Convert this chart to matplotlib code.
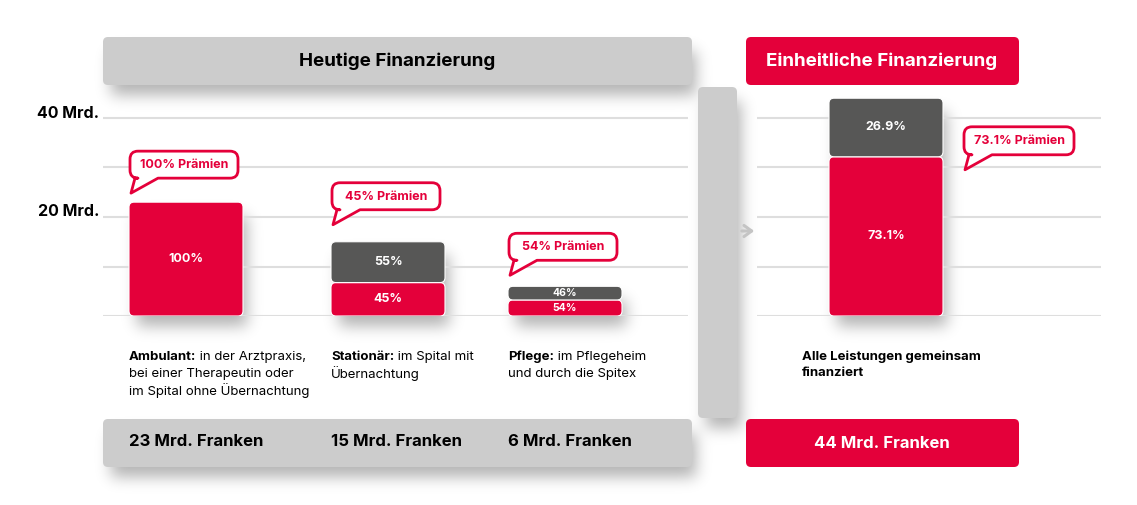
import numpy as np
import matplotlib.pyplot as plt
from matplotlib.patches import FancyBboxPatch, PathPatch
from matplotlib.path import Path

# data (Mrd. Franken and shares)
categories = ['Ambulant', 'Stationär', 'Pflege']
totals = [23, 15, 6]
praemien_share = [100, 45, 54]
other_share = [0, 55, 46]
new_total = 44
new_praemien = 73.1
new_other = 26.9
y_ticks = [20, 40]
y_labels = ['20 Mrd.', '40 Mrd.']
descriptions = [
    ('Ambulant:', [' in der Arztpraxis,', 'bei einer Therapeutin oder', 'im Spital ohne Übernachtung']),
    ('Stationär:', [' im Spital mit', 'Übernachtung']),
    ('Pflege:', [' im Pflegeheim', 'und durch die Spitex']),
]

RED = '#e4003a'
DARK = '#575756'
LIGHT = '#cccccc'
GRID = '#dedede'
FONT = 'Inter'
W, H = 1137, 505

plt.rcParams['font.family'] = [FONT, 'DejaVu Sans']

fig = plt.figure(figsize=(W / 100, H / 100), dpi=100)
fig.patch.set_facecolor('white')

# background axes in pixel coordinates (y down)
bg = fig.add_axes([0, 0, 1, 1], zorder=0)
bg.axis('off')

PX = 198 / 40.0  # pixels per Mrd.
y0_px = 316
shadow_rects = []


def rbox(ax, x, y, w, h, color, r=5, z=1):
    p = FancyBboxPatch((x, y), w, h, boxstyle=f'round,pad=0,rounding_size={r}',
                       fc=color, ec='none', zorder=z)
    ax.add_patch(p)
    return p


# header boxes
rbox(bg, 103, 37, 589, 48, LIGHT)
shadow_rects.append((103, 37, 692, 85))
bg.text(397, 61, 'Heutige Finanzierung', ha='center', va='center', fontsize=13.5,
        fontweight='bold', color='black')
rbox(bg, 746, 37, 273, 48, RED)
bg.text(882, 61, 'Einheitliche Finanzierung', ha='center', va='center', fontsize=13.5,
        fontweight='bold', color='white')

# vertical separator
rbox(bg, 698, 87, 39, 331, LIGHT)
shadow_rects.append((698, 87, 737, 418))
bg.annotate('', xy=(757, 231), xytext=(739, 231),
            arrowprops=dict(arrowstyle='->,head_length=0.55,head_width=0.4', color='#c4c4c4', lw=2.2))

# bottom boxes
rbox(bg, 103, 419, 589, 48, LIGHT)
shadow_rects.append((103, 419, 692, 467))
rbox(bg, 746, 419, 273, 48, RED)


def chart_axes(x_left, x_right):
    top = y0_px - 45 * PX
    ax = fig.add_axes([x_left / W, 1 - y0_px / H, (x_right - x_left) / W, (y0_px - top) / H],
                      zorder=1)
    ax.set_xlim(0, x_right - x_left)
    ax.set_ylim(0, 45)
    ax.patch.set_alpha(0)
    for s in ax.spines.values():
        s.set_visible(False)
    ax.set_xticks([])
    ax.set_yticks([])
    for g in [0, 10, 20, 30, 40]:
        ax.axhline(g, color=GRID, lw=1.5, zorder=0)
    return ax


ax = chart_axes(103, 688)
ax2 = chart_axes(757, 1101)
asp = 1 / PX


def to_px(a, x, y):
    dx, dy = a.transData.transform((x, y))
    return dx, H - dy


bar_x = [26, 228, 405]
bar_w = 114


def seg(a, x, bottom, h, color, label, fs):
    p = FancyBboxPatch((x, bottom), bar_w, h, boxstyle='round,pad=0,rounding_size=5',
                       mutation_aspect=asp, fc=color, ec='white', lw=0.8, zorder=2)
    a.add_patch(p)
    a.text(x + bar_w / 2, bottom + h / 2, label, ha='center', va='center', color='white',
           fontsize=fs, fontweight='bold', zorder=3)


def add_bar_shadow(a, x, total):
    xa, ya = to_px(a, x, total)
    xb, yb = to_px(a, x + bar_w, 0)
    shadow_rects.append((xa, ya, xb, yb))


for i, (t, pr, ot) in enumerate(zip(totals, praemien_share, other_share)):
    fs = 9 if t > 10 else 7.5
    red_h = t * pr / 100
    seg(ax, bar_x[i], 0, red_h, RED, f'{pr}%', fs)
    if ot:
        seg(ax, bar_x[i], red_h, t * ot / 100, DARK, f'{ot}%', fs)
    add_bar_shadow(ax, bar_x[i], t)

nx = 72
red_h = new_total * new_praemien / 100
seg(ax2, nx, 0, red_h, RED, f'{new_praemien}%', 9)
seg(ax2, nx, red_h, new_total * new_other / 100, DARK, f'{new_other}%', 9)
add_bar_shadow(ax2, nx, new_total)

# soft drop shadows as a blurred image
mask = np.zeros((H, W))
dx, dy = 4, 10
for x0, y0, x1, y1 in shadow_rects:
    mask[int(y0 + dy + 4):int(y1 + dy), int(x0 + dx + 4):int(x1 + dx)] = 1
s = 7.5
k = np.exp(-np.arange(-25, 26) ** 2 / (2 * s * s))
k /= k.sum()
mask = np.apply_along_axis(lambda r: np.convolve(r, k, mode='same'), 1, mask)
mask = np.apply_along_axis(lambda c: np.convolve(c, k, mode='same'), 0, mask)
rgba = np.zeros((H, W, 4))
rgba[..., 3] = mask * 0.3
bg.imshow(rgba, extent=(0, W, H, 0), interpolation='bilinear', aspect='auto', zorder=0)
bg.set_xlim(0, W)
bg.set_ylim(H, 0)

# y labels
for v, lab in zip(y_ticks, y_labels):
    bg.text(99, y0_px - v * PX - 5, lab, ha='right', va='center', fontsize=11.5,
            fontweight='bold', color='black')

# top overlay for callouts
top = fig.add_axes([0, 0, 1, 1], zorder=3)
top.set_xlim(0, W)
top.set_ylim(H, 0)
top.axis('off')


def bubble(tip, text, w=108, h=27, r=8):
    tx, ty = tip
    x0 = tx - 1
    y1 = ty - 15
    y0 = y1 - h
    x1 = x0 + w
    ba, bb = x0 + 5, x0 + 28
    verts = [(x0 + r, y0), (x1 - r, y0), (x1, y0), (x1, y0 + r), (x1, y1 - r), (x1, y1),
             (x1 - r, y1), (bb, y1), (tx, ty), (ba, y1), (x0 + r, y1), (x0, y1), (x0, y1 - r),
             (x0, y0 + r), (x0, y0), (x0 + r, y0), (x0 + r, y0)]
    codes = [Path.MOVETO, Path.LINETO, Path.CURVE3, Path.CURVE3, Path.LINETO, Path.CURVE3,
             Path.CURVE3, Path.LINETO, Path.LINETO, Path.LINETO, Path.LINETO, Path.CURVE3,
             Path.CURVE3, Path.LINETO, Path.CURVE3, Path.CURVE3, Path.CLOSEPOLY]
    top.add_patch(PathPatch(Path(verts, codes), fc='white', ec=RED, lw=2, joinstyle='round'))
    top.text((x0 + x1) / 2, (y0 + y1) / 2 + 0.5, text, ha='center', va='center', color=RED,
             fontsize=9, fontweight='bold')


tip_gap = [9, 17, 11]
for i, t in enumerate(totals):
    px, py = to_px(ax, bar_x[i], t)
    bubble((px + 2, py - tip_gap[i]), f'{praemien_share[i]}% Prämien')
px, py = to_px(ax2, nx + bar_w, red_h)
bubble((px + 22, py + 13), f'{new_praemien}% Prämien', w=110, h=28)

# descriptions
for i, (bold, lines) in enumerate(descriptions):
    x = to_px(ax, bar_x[i], 0)[0]
    b = top.text(x, 357, bold, ha='left', va='center', fontsize=9.5, fontweight='bold')
    top.annotate(lines[0], xy=(1, 0), xycoords=b, ha='left', va='bottom', fontsize=9.5)
    for j, line in enumerate(lines[1:]):
        top.text(x, 357 + (j + 1) * 16.5, line, ha='left', va='center', fontsize=9.5)
    top.text(x, 442, f'{totals[i]} Mrd. Franken', ha='left', va='center', fontsize=12,
             fontweight='bold')

top.text(802, 357, 'Alle Leistungen gemeinsam', ha='left', va='center', fontsize=9.5,
         fontweight='bold')
top.text(802, 373.5, 'finanziert', ha='left', va='center', fontsize=9.5, fontweight='bold')
top.text(882, 443, f'{new_total} Mrd. Franken', ha='center', va='center', fontsize=12,
         fontweight='bold', color='white')

fig.savefig('out.png', dpi=100)
